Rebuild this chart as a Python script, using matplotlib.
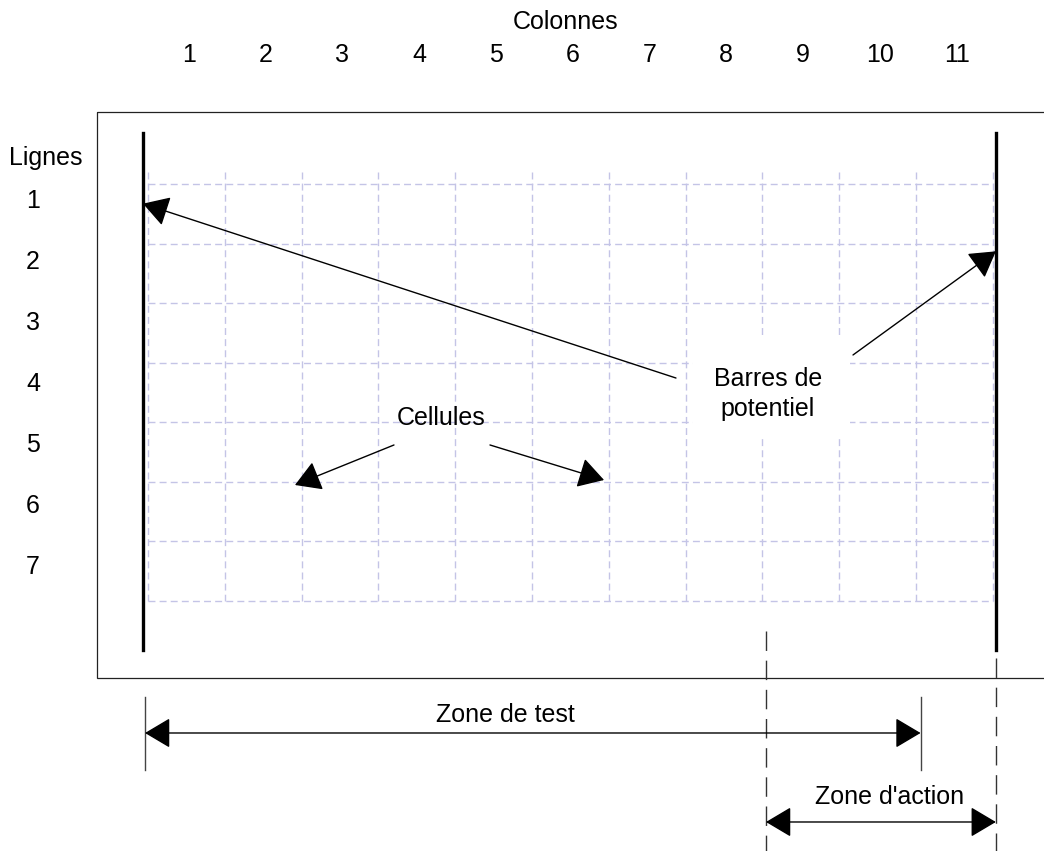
import matplotlib
matplotlib.use('Agg')
import matplotlib.pyplot as plt
from matplotlib.patches import FancyArrowPatch, Rectangle

plt.rcParams['font.family'] = ['Liberation Sans', 'DejaVu Sans']

# ladder grid: 11 columns x 7 rows (everything below is in cell units)
columns = [1, 2, 3, 4, 5, 6, 7, 8, 9, 10, 11]
rows = [1, 2, 3, 4, 5, 6, 7]
col_labels = [str(c) for c in columns]
row_labels = [str(r) for r in rows]

cell_notes = ['Cellules']
bar_note = 'Barres de\npotentiel'
zone_test = 'Zone de test'
zone_action = "Zone d'action"

FS = 18
GRID_COLOR = '#c4c4e6'


def arrow(ax, tail, tip, both=False, lw=1.0):
    style = '<|-|>' if both else '-|>'
    a = FancyArrowPatch(tail, tip, arrowstyle=style + ',head_length=16,head_width=9.5',
                        mutation_scale=1, shrinkA=0, shrinkB=0,
                        color='black', lw=lw, zorder=5)
    ax.add_patch(a)


fig = plt.figure(figsize=(10.44, 8.51), dpi=100)
ax = fig.add_axes([0, 0, 1, 1])
ax.set_xlim(-1.927, 11.667)
ax.set_ylim(11.197, -3.089)
ax.axis('off')

ncol = len(columns)
nrow = len(rows)

# outer frame (runs past the right edge)
ax.add_patch(Rectangle((-0.67, -1.21), 13.0, 9.5, fill=False, lw=0.9, ec='#222222'))

# dashed grid of the cells
for c in range(ncol + 1):
    ax.plot([c, c], [-0.2, nrow], color=GRID_COLOR, lw=1.0, ls=(0, (5, 3)), zorder=1)
for r in range(nrow + 1):
    ax.plot([0, ncol], [r, r], color=GRID_COLOR, lw=1.0, ls=(0, (5, 3)), zorder=1)

# potential bars
ax.plot([-0.065, -0.065], [-0.86, 7.82], color='black', lw=2.4, zorder=3)
ax.plot([11.04, 11.04], [-0.86, 7.82], color='black', lw=2.4, zorder=3)

# column / row labels
ax.text(5.44, -2.72, 'Colonnes', fontsize=FS, ha='center', va='center')
for i, lab in enumerate(col_labels):
    ax.text(i + 0.53, -2.166, lab, fontsize=FS, ha='center', va='center')
ax.text(-1.328, -0.436, 'Lignes', fontsize=FS, ha='center', va='center')
for i, lab in enumerate(row_labels):
    ax.text(-1.497, 0.285 + i * 1.024, lab, fontsize=FS, ha='center', va='center')

# bar annotation (white patch hides the grid behind it)
ax.add_patch(Rectangle((7.10, 2.53), 2.04, 1.68, fc='white', ec='none', zorder=2))
ax.text(8.07, 3.52, bar_note, fontsize=FS, ha='center', va='center', linespacing=1.3,
        zorder=4)
arrow(ax, (6.875, 3.257), (-0.065, 0.33))
arrow(ax, (9.18, 2.87), (11.04, 1.13))

# cells annotation
ax.text(3.82, 3.93, cell_notes[0], fontsize=FS, ha='center', va='center', zorder=4)
arrow(ax, (3.203, 4.381), (1.914, 5.053))
arrow(ax, (4.453, 4.381), (5.938, 4.969))

# test zone
ax.plot([-0.039, -0.039], [8.61, 9.84], color='#444444', lw=1.0)
ax.plot([10.06, 10.06], [8.61, 9.84], color='#444444', lw=1.0)
arrow(ax, (-0.039, 9.216), (10.06, 9.216), both=True)
ax.text(4.66, 8.914, zone_test, fontsize=FS, ha='center', va='center')

# action zone
ax.plot([8.047, 8.047], [7.504, 11.2], color='#333333', lw=1.0, ls=(0, (14, 7)))
ax.plot([11.04, 11.04], [7.957, 11.2], color='#333333', lw=1.0, ls=(0, (14, 7)))
arrow(ax, (8.047, 10.71), (11.04, 10.71), both=True)
ax.text(9.66, 10.29, zone_action, fontsize=FS, ha='center', va='center')

fig.savefig('out.png', dpi=100)
